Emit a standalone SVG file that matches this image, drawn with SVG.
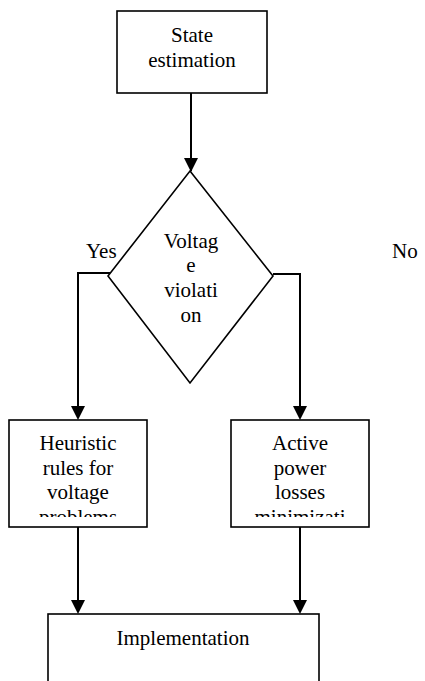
<svg xmlns="http://www.w3.org/2000/svg" width="425" height="681" viewBox="0 0 425 681">
  <style>
    .box { fill: #ffffff; stroke: #000000; stroke-width: 1.6; }
    .wire { fill: none; stroke: #000000; stroke-width: 2; }
    .label { font-family: 'Liberation Serif', serif; font-size: 21px; fill: #000000; }
    .mid { text-anchor: middle; }
  </style>
  <defs>
    <clipPath id="clip-heuristic"><rect x="10" y="421" width="136" height="96"/></clipPath>
    <clipPath id="clip-active"><rect x="232" y="421" width="136" height="96"/></clipPath>
  </defs>

  <g id="connectors">
    <line class="wire" x1="191" y1="93" x2="191" y2="171"/>
    <polygon points="184,158 198,158 191,172" fill="#000000"/>
    <polyline class="wire" points="110,273 78,273 78,406"/>
    <polygon points="71,406 85,406 78,420" fill="#000000"/>
    <polyline class="wire" points="273,274 300,274 300,406"/>
    <polygon points="293,406 307,406 300,420" fill="#000000"/>
    <line class="wire" x1="78" y1="527" x2="78" y2="600"/>
    <polygon points="71,600 85,600 78,614" fill="#000000"/>
    <line class="wire" x1="300" y1="527" x2="300" y2="600"/>
    <polygon points="293,600 307,600 300,614" fill="#000000"/>
    <text class="label" x="86" y="258" font-family="Liberation Serif, serif">Yes</text>
    <text class="label" x="392" y="258" font-family="Liberation Serif, serif">No</text>
  </g>

  <g id="state-estimation">
    <rect class="box" x="117" y="11" width="150" height="82"/>
    <text class="label mid" x="192" y="42">State</text>
    <text class="label mid" x="192" y="67">estimation</text>
  </g>

  <g id="voltage-violation">
    <polygon class="box" points="190,171 273,276 190,383 108,276"/>
    <text class="label mid" x="191" y="248">Voltag</text>
    <text class="label mid" x="191" y="272">e</text>
    <text class="label mid" x="191" y="297">violati</text>
    <text class="label mid" x="191" y="322">on</text>
  </g>

  <g id="heuristic-rules">
    <rect class="box" x="9" y="420" width="138" height="107"/>
    <g clip-path="url(#clip-heuristic)">
      <text class="label mid" x="78" y="450">Heuristic</text>
      <text class="label mid" x="78" y="475">rules for</text>
      <text class="label mid" x="78" y="499">voltage</text>
      <text class="label mid" x="78" y="524">problems</text>
    </g>
  </g>

  <g id="active-power">
    <rect class="box" x="231" y="420" width="138" height="107"/>
    <g clip-path="url(#clip-active)">
      <text class="label mid" x="300" y="450">Active</text>
      <text class="label mid" x="300" y="475">power</text>
      <text class="label mid" x="300" y="499">losses</text>
      <text class="label mid" x="300" y="524">minimizati</text>
    </g>
  </g>

  <g id="implementation">
    <rect class="box" x="48" y="614" width="271" height="80"/>
    <text class="label mid" x="183" y="645">Implementation</text>
  </g>
</svg>
